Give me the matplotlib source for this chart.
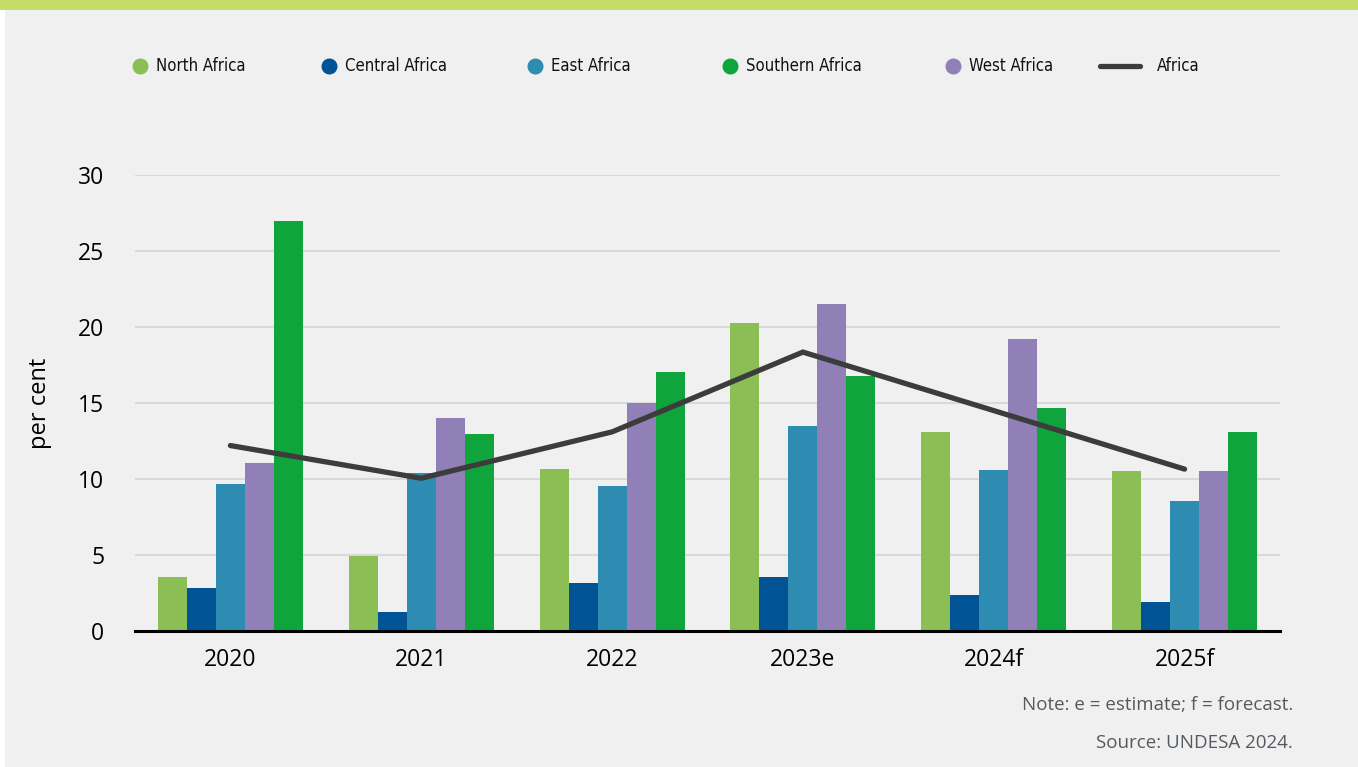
import matplotlib.pyplot as plt
import numpy as np
from matplotlib.lines import Line2D
from matplotlib.patches import Rectangle
from matplotlib import font_manager

years = ['2020', '2021', '2022', '2023e', '2024f', '2025f']
north = [3.55, 4.95, 10.65, 20.25, 13.1, 10.5]
central = [2.8, 1.25, 3.15, 3.55, 2.4, 1.9]
east = [9.65, 10.4, 9.55, 13.5, 10.6, 8.55]
west = [11.05, 14.0, 15.0, 21.5, 19.2, 10.5]
southern = [27.0, 12.95, 17.05, 16.8, 14.65, 13.1]
africa = [12.2, 10.05, 13.1, 18.35, 14.5, 10.65]

colors = {
    'North Africa': '#8bbf56',
    'Central Africa': '#005496',
    'East Africa': '#2e8bb2',
    'Southern Africa': '#10a53c',
    'West Africa': '#9180b7',
}
bg = '#f0f0f0'

# narrow font for the legend if there is one
names = {f.name for f in font_manager.fontManager.ttflist}
if 'Liberation Sans Narrow' in names:
    leg_font = dict(family='Liberation Sans Narrow', size=13.5)
else:
    leg_font = dict(family='DejaVu Sans', stretch='condensed', size=12)

fig = plt.figure(figsize=(13.58, 7.67), dpi=100)
fig.patch.set_facecolor('white')
# grey panel and green strip on top
fig.add_artist(Rectangle((5 / 1358, 0), 1 - 5 / 1358, 1 - 10 / 767,
                         transform=fig.transFigure, facecolor=bg, edgecolor='none', zorder=-10))
fig.add_artist(Rectangle((0, 1 - 10 / 767), 1, 10 / 767,
                         transform=fig.transFigure, facecolor='#c6dc68', edgecolor='none', zorder=-10))

ax = fig.add_axes([135 / 1358, 1 - 631 / 767, 1145 / 1358, 456 / 767])
ax.set_facecolor(bg)

x = np.arange(len(years))
w = 0.152
# bar order within each group: North, Central, East, West, Southern
series = [('North Africa', north), ('Central Africa', central), ('East Africa', east),
          ('West Africa', west), ('Southern Africa', southern)]
for i, (name, vals) in enumerate(series):
    ax.bar(x + (i - 2) * w, vals, w, color=colors[name], zorder=3)

ax.plot(x, africa, color='#3c3c3c', lw=3.8, solid_capstyle='round',
        solid_joinstyle='miter', zorder=4)

ax.set_xlim(-0.5, len(years) - 0.5)
ax.set_ylim(0, 30)
ax.set_yticks([0, 5, 10, 15, 20, 25, 30])
ax.yaxis.grid(True, color='#d9d9d9', lw=1.5, zorder=0)
ax.set_axisbelow(True)
for s in ['top', 'right', 'left']:
    ax.spines[s].set_visible(False)
ax.spines['bottom'].set_color('black')
ax.spines['bottom'].set_linewidth(2.2)
ax.spines['bottom'].set_zorder(5)
ax.tick_params(axis='both', length=0, labelsize=16.5, colors='black')
ax.tick_params(axis='y', pad=22)
ax.tick_params(axis='x', pad=12)
ax.set_xticks(x)
ax.set_xticklabels(years)
for lab in ax.get_xticklabels() + ax.get_yticklabels():
    lab.set_family('Open Sans')
ax.set_ylabel('per cent', fontsize=17, family='Open Sans')
ax.yaxis.set_label_coords(-83 / 1145, 0.5)

# legend, placed by hand to follow the uneven spacing of the original
leg_y = 1 - 66 / 767
leg_items = [('North Africa', 140), ('Central Africa', 329), ('East Africa', 535),
             ('Southern Africa', 730), ('West Africa', 953)]
for name, px in leg_items:
    fig.add_artist(Line2D([px / 1358], [leg_y], marker='o', markersize=10.5, color=colors[name],
                          linestyle='none', transform=fig.transFigure))
    fig.text((px + 16) / 1358, leg_y, name, va='center', ha='left',
             color='#111111', **leg_font)
fig.add_artist(Line2D([1100 / 1358, 1140 / 1358], [leg_y, leg_y], color='#3c3c3c', lw=3.8,
                      solid_capstyle='round', transform=fig.transFigure))
fig.text(1157 / 1358, leg_y, 'Africa', va='center', ha='left',
         color='#111111', **leg_font)

fig.text(1293 / 1358, 1 - 705 / 767, 'Note: e = estimate; f = forecast.', fontsize=13.5,
         family='Open Sans', color='#555a60', ha='right', va='center')
fig.text(1293 / 1358, 1 - 743 / 767, 'Source: UNDESA 2024.', fontsize=13.5,
         family='Open Sans', color='#555a60', ha='right', va='center')

fig.savefig('out.png', dpi=100, facecolor=fig.get_facecolor())
